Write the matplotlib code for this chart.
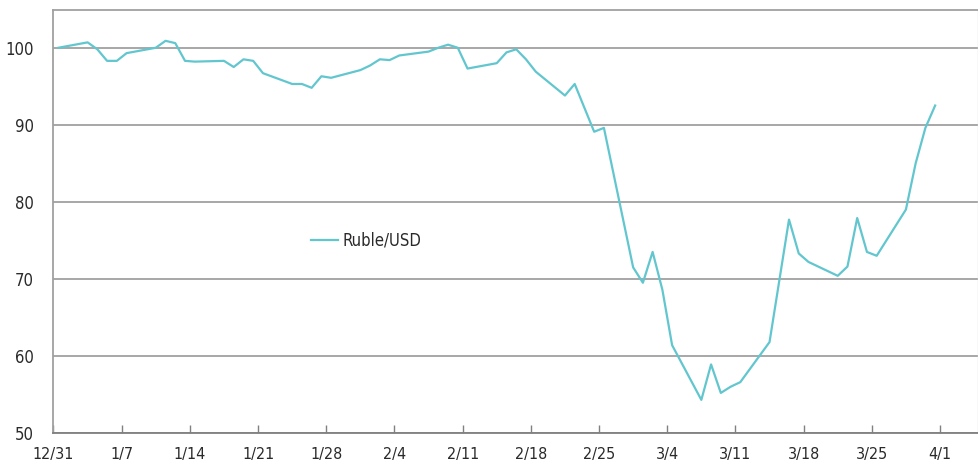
"""
Ruble/USD 指数走势 (12/31 = 100)
"""

import datetime as dt
import matplotlib
matplotlib.use('Agg')
import matplotlib.pyplot as plt

# 数据: 交易日期与指数值
dates = ['2021-12-31',
         '2022-01-03', '2022-01-04', '2022-01-05', '2022-01-06', '2022-01-07',
         '2022-01-10', '2022-01-11', '2022-01-12', '2022-01-13', '2022-01-14',
         '2022-01-17', '2022-01-18', '2022-01-19', '2022-01-20', '2022-01-21',
         '2022-01-24', '2022-01-25', '2022-01-26', '2022-01-27', '2022-01-28',
         '2022-01-31', '2022-02-01', '2022-02-02', '2022-02-03', '2022-02-04',
         '2022-02-07', '2022-02-08', '2022-02-09', '2022-02-10', '2022-02-11',
         '2022-02-14', '2022-02-15', '2022-02-16', '2022-02-17', '2022-02-18',
         '2022-02-21', '2022-02-22', '2022-02-23', '2022-02-24', '2022-02-25',
         '2022-02-28', '2022-03-01', '2022-03-02', '2022-03-03', '2022-03-04',
         '2022-03-07', '2022-03-08', '2022-03-09', '2022-03-10', '2022-03-11',
         '2022-03-14', '2022-03-16', '2022-03-17', '2022-03-18',
         '2022-03-21', '2022-03-22', '2022-03-23', '2022-03-24', '2022-03-25',
         '2022-03-28', '2022-03-29', '2022-03-30', '2022-03-31']
ruble_usd = [100.0,
             100.7, 99.8, 98.3, 98.3, 99.3,
             100.0, 100.9, 100.6, 98.3, 98.2,
             98.3, 97.5, 98.5, 98.3, 96.7,
             95.3, 95.3, 94.8, 96.3, 96.1,
             97.1, 97.7, 98.5, 98.4, 99.0,
             99.5, 100.0, 100.4, 100.0, 97.3,
             98.0, 99.4, 99.8, 98.5, 96.9,
             93.8, 95.3, 92.2, 89.1, 89.6,
             71.5, 69.5, 73.5, 68.6, 61.4,
             54.3, 58.9, 55.2, 56.0, 56.6,
             61.8, 77.7, 73.3, 72.2,
             70.4, 71.6, 77.9, 73.5, 73.0,
             79.0, 85.0, 89.6, 92.5]
tick_labels = ['12/31', '1/7', '1/14', '1/21', '1/28', '2/4', '2/11', '2/18',
               '2/25', '3/4', '3/11', '3/18', '3/25', '4/1']
y_ticks = [50, 60, 70, 80, 90, 100]

LINE_COLOR = '#62c6cf'
GRID_COLOR = '#a0a0a0'
TEXT_COLOR = '#2a2a2a'

# 字体: 窄体
plt.rcParams['font.family'] = ['DejaVu Sans']
plt.rcParams['font.stretch'] = 'condensed'

start = dt.date(2021, 12, 31)
# 数据点位于当天中间 (Excel 日期轴风格)
x = [(dt.date.fromisoformat(d) - start).days + 0.5 for d in dates]
tick_pos = [7 * i for i in range(len(tick_labels))]

fig = plt.figure(figsize=(9.79, 4.65), dpi=100)
ax = fig.add_axes([53.5 / 979, 1 - 433 / 465, (978 - 53.5) / 979, (433 - 10) / 465])

ax.plot(x, ruble_usd, color=LINE_COLOR, lw=1.6, label='Ruble/USD')

ax.set_xlim(0, 94.9)
ax.set_ylim(50, 104.9)
ax.set_yticks(y_ticks)
ax.set_xticks(tick_pos)
ax.set_xticklabels(tick_labels)

ax.grid(axis='y', color=GRID_COLOR, lw=1.3)
ax.set_axisbelow(True)

for side in ['top', 'left']:
    ax.spines[side].set_color(GRID_COLOR)
    ax.spines[side].set_linewidth(1.3)
ax.spines['right'].set_color('#dddddd')
ax.spines['right'].set_linewidth(1.0)
ax.spines['bottom'].set_color('#808080')
ax.spines['bottom'].set_linewidth(1.3)

ax.tick_params(axis='x', direction='in', length=6, width=1, color='#808080',
               labelsize=11.5, labelcolor=TEXT_COLOR, pad=10)
ax.tick_params(axis='y', length=0, labelsize=12, labelcolor=TEXT_COLOR, pad=14)

ax.legend(loc='upper left', bbox_to_anchor=(0.262, 0.512), frameon=False,
          fontsize=12, handlelength=1.65, handletextpad=0.25,
          labelcolor=TEXT_COLOR)

fig.savefig('out.png', dpi=100)
